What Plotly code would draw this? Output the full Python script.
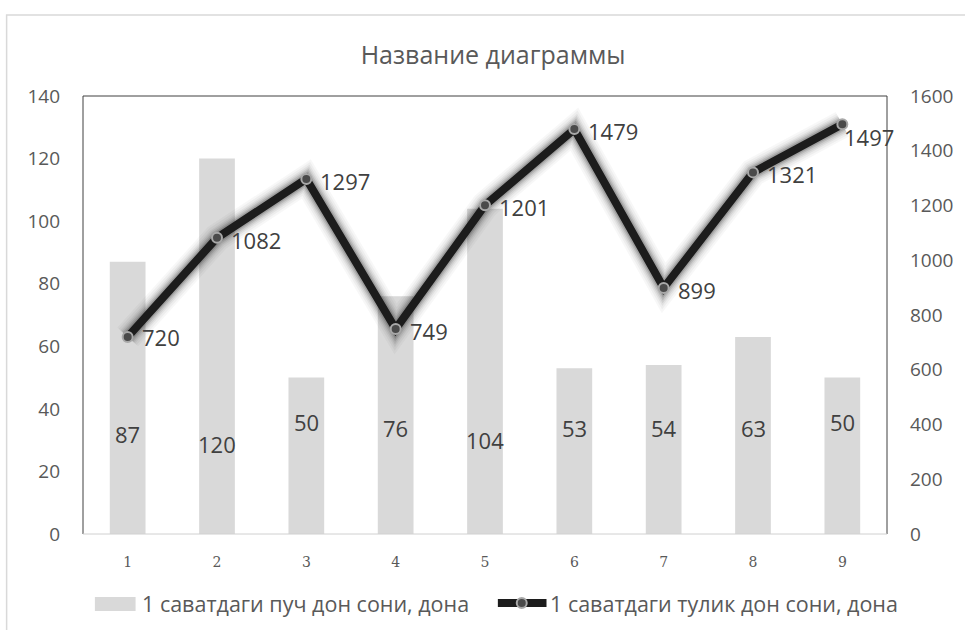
import plotly.graph_objects as go

# Series data
categories = [1, 2, 3, 4, 5, 6, 7, 8, 9]
empty_grains = [87, 120, 50, 76, 104, 53, 54, 63, 50]
full_grains = [720, 1082, 1297, 749, 1201, 1479, 899, 1321, 1497]

bar_name = "1 саватдаги пуч дон сони, дона"
line_name = "1 саватдаги тулик дон сони, дона"
title_text = "Название диаграммы"

# small vertical nudges (px) for the bar value labels
bar_label_shift = [-6, -16, 6, 0, -12, 0, 0, 0, 6]
# offsets (px) of the line value labels from their points
line_label_dx = [12, 12, 12, 12, 12, 12, 12, 12, 0]
line_label_dy = [0, -2, -2, -2, -2, -2, -2, -2, -13]

GRAY_TEXT = "#595959"
LABEL_TEXT = "#404040"
FONT = "Open Sans"
BAR_COLOR = "#d9d9d9"
LINE_COLOR = "#1c1c1c"

fig = go.Figure()

fig.add_trace(go.Bar(
    x=categories, y=empty_grains, name=bar_name,
    marker=dict(color=BAR_COLOR, line=dict(width=0)),
    width=0.4, yaxis="y", showlegend=False,
))

# soft glow beneath the line
for w, a in [(28, 0.03), (24, 0.04), (20, 0.05), (17, 0.07), (14, 0.10), (11, 0.14)]:
    fig.add_trace(go.Scatter(
        x=categories, y=full_grains, yaxis="y2", mode="lines",
        line=dict(color=f"rgba(0,0,0,{a})", width=w),
        showlegend=False, hoverinfo="skip",
    ))

fig.add_trace(go.Scatter(
    x=categories, y=full_grains, name=line_name, yaxis="y2",
    mode="lines+markers",
    line=dict(color=LINE_COLOR, width=8),
    marker=dict(size=10, color="#4a4a4a", line=dict(color="#a8a8a8", width=2)),
    showlegend=False,
))

annotations = []
for c, v, s in zip(categories, empty_grains, bar_label_shift):
    annotations.append(dict(
        x=c, y=34, xref="x", yref="y", text=str(v), showarrow=False,
        yshift=s, font=dict(size=22, color=LABEL_TEXT, family=FONT),
    ))
for c, v, dx, dy in zip(categories, full_grains, line_label_dx, line_label_dy):
    annotations.append(dict(
        x=c, y=v, xref="x", yref="y2", text=str(v), showarrow=False,
        xanchor="left", yanchor="middle", xshift=dx, yshift=dy,
        font=dict(size=22, color=LABEL_TEXT, family=FONT),
    ))

# legend entries drawn below the plot
legend_y = -0.159
annotations += [
    dict(x=0.0704, y=legend_y, xref="paper", yref="paper", text=bar_name,
         showarrow=False, xanchor="left", yanchor="middle",
         font=dict(size=21.5, color=GRAY_TEXT, family=FONT)),
    dict(x=0.5778, y=legend_y, xref="paper", yref="paper", text=line_name,
         showarrow=False, xanchor="left", yanchor="middle",
         font=dict(size=21.5, color=GRAY_TEXT, family=FONT)),
]

shapes = [
    # plot-area frame
    dict(type="line", xref="paper", yref="paper", x0=0, x1=1, y0=1, y1=1,
         line=dict(color="#404040", width=1)),
    dict(type="line", xref="paper", yref="paper", x0=0, x1=0, y0=0, y1=1,
         line=dict(color="#404040", width=1)),
    dict(type="line", xref="paper", yref="paper", x0=1, x1=1, y0=0, y1=1,
         line=dict(color="#404040", width=1)),
    dict(type="line", xref="paper", yref="paper", x0=0, x1=1, y0=0, y1=0,
         line=dict(color="#d0d0d0", width=1)),
    # outer chart border
    dict(type="rect", xref="paper", yref="paper", x0=-0.095, x1=1.2,
         y0=-0.3, y1=1.185, line=dict(color="#d9d9d9", width=1.5), layer="below"),
    # legend keys
    dict(type="rect", xref="paper", yref="paper", x0=0.0148, x1=0.0654,
         y0=-0.1438, y1=-0.1758, fillcolor=BAR_COLOR, line=dict(width=0)),
    dict(type="line", xref="paper", yref="paper", x0=0.516, x1=0.5765,
         y0=-0.1575, y1=-0.1575, line=dict(color=LINE_COLOR, width=8)),
    dict(type="circle", xref="paper", yref="paper", xsizemode="pixel",
         ysizemode="pixel", xanchor=0.5457, yanchor=-0.1575,
         x0=-5, x1=5, y0=-5, y1=5, fillcolor="#4a4a4a",
         line=dict(color="#a8a8a8", width=2)),
]

fig.update_layout(
    width=965, height=630,
    margin=dict(l=83, r=72, t=96, b=96),
    paper_bgcolor="white", plot_bgcolor="white",
    showlegend=False,
    title=dict(text=title_text, x=0.511, xanchor="center", y=0.913, yanchor="middle",
               font=dict(size=25, color=GRAY_TEXT, family=FONT)),
    xaxis=dict(range=[0.5, 9.5], tickmode="array", tickvals=categories,
               ticktext=[str(c) for c in categories], showgrid=False,
               zeroline=False, showline=False, ticks="",
               tickfont=dict(size=14, color=GRAY_TEXT, family="DejaVu Serif"),
               ticklabelstandoff=18),
    yaxis=dict(range=[0, 140], dtick=20, showgrid=False, zeroline=False,
               showline=False, ticks="",
               tickfont=dict(size=19, color=GRAY_TEXT, family=FONT),
               ticklabelstandoff=22),
    yaxis2=dict(range=[0, 1600], dtick=200, overlaying="y", side="right",
                showgrid=False, zeroline=False, showline=False, ticks="",
                tickfont=dict(size=19, color=GRAY_TEXT, family=FONT),
                ticklabelstandoff=22),
    annotations=annotations,
    shapes=shapes,
    bargap=0.6,
)

fig.write_html("out.html")
